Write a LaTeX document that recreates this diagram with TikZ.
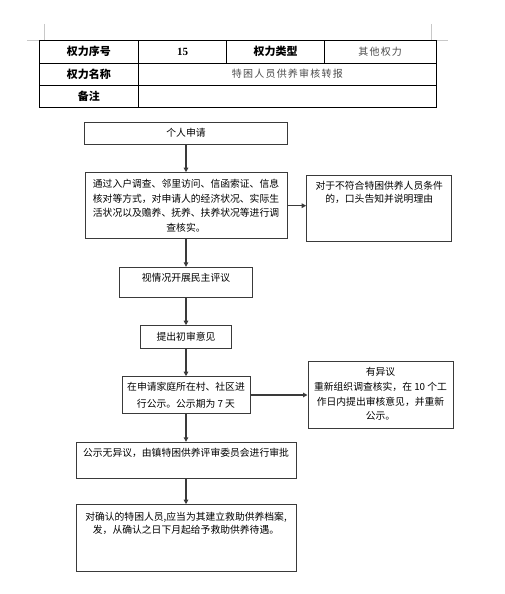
\documentclass[tikz,border=0pt]{standalone}
\usepackage{fontspec}
\usetikzlibrary{arrows.meta}
\setmainfont{Noto Sans CJK SC}
\newfontfamily\numfont{Liberation Serif}
\newfontfamily\spacedfont[LetterSpace=12]{Noto Sans CJK SC}
\definecolor{linegray}{HTML}{3A3A3A}
\definecolor{markgray}{HTML}{C8C8C8}
\definecolor{valgray}{HTML}{4A4A4A}
\tikzset{
  cell/.style={draw=black, line width=0.9pt, inner sep=0pt, font=\fontsize{11}{13}\selectfont\bfseries},
  valcell/.style={draw=black, line width=0.9pt, inner sep=0pt, text=valgray, font=\fontsize{10}{12}\selectfont\spacedfont},
  flowbox/.style={draw=linegray, line width=1pt, inner sep=0pt},
  flowtext/.style={inner sep=0pt, align=center, font=\fontsize{9.8}{14.7}\selectfont},
  arr/.style={draw=linegray, line width=1.2pt, -{Triangle[length=4.5pt,width=4.5pt]}},
  cornermark/.style={draw=markgray, line width=0.8pt}
}
\begin{document}
\begin{tikzpicture}[x=1pt,y=-1pt]
\useasboundingbox (0,0) rectangle (504,594);
% page corner marks
\draw[cornermark] (44.3,24) -- (44.3,40) -- (27,40);
\draw[cornermark] (431.3,24) -- (431.3,40) -- (448,40);
% table
\node[cell, minimum width=99.7pt, minimum height=23pt] (t11) at (88.85,51.5) {权力序号};
\node[cell, minimum width=88pt, minimum height=23pt, font=\fontsize{11}{13}\selectfont\numfont\bfseries] (t12) at (182.7,51.5) {15};
\node[cell, minimum width=97.6pt, minimum height=23pt] (t13) at (275.5,51.5) {权力类型};
\node[valcell, minimum width=111.7pt, minimum height=23pt] (t14) at (380.15,51.5) {其他权力};
\node[cell, minimum width=99.7pt, minimum height=22pt] (t21) at (88.85,74) {权力名称};
\node[valcell, minimum width=297.3pt, minimum height=22pt] (t22) at (287.35,74) {特困人员供养审核转报};
\node[cell, minimum width=99.7pt, minimum height=22pt] (t31) at (88.85,96) {备注};
\node[cell, minimum width=297.3pt, minimum height=22pt] (t32) at (287.35,96) {};
% flow boxes
\node[flowbox, minimum width=202.3pt, minimum height=22.3pt] (b1) at (186,133.2) {};
\node[flowtext] (b1t) at (186,133.2) {个人申请};
\node[flowbox, minimum width=202pt, minimum height=66pt] (b2) at (186,205.7) {};
\node[flowtext, anchor=north] (b2t) at (186,179) {通过入户调查、邻里访问、信函索证、信息\\核对等方式，对申请人的经济状况、实际生\\活状况以及赡养、抚养、扶养状况等进行调\\查核实。};
\node[flowbox, minimum width=145pt, minimum height=66pt] (b3) at (379.2,208) {};
\node[flowtext, anchor=north, font=\fontsize{9.8}{13.3}\selectfont] (b3t) at (379.2,180.7) {对于不符合特困供养人员条件\\的，口头告知并说明理由};
\node[flowbox, minimum width=132.3pt, minimum height=29.7pt] (b4) at (186,282.2) {};
\node[flowtext] (b4t) at (186,278.3) {视情况开展民主评议};
\node[flowbox, minimum width=90.6pt, minimum height=22.6pt] (b5) at (186,337) {};
\node[flowtext] (b5t) at (186,337) {提出初审意见};
\node[flowbox, minimum width=128pt, minimum height=36.6pt] (b6) at (186,395) {};
\node[flowtext, anchor=north, font=\fontsize{9.8}{16.7}\selectfont] (b6t) at (186,382) {在申请家庭所在村、社区进\\行公示。公示期为 7 天};
\node[flowbox, minimum width=145pt, minimum height=67pt] (b7) at (380.5,395.2) {};
\node[flowtext, anchor=north, font=\fontsize{9.8}{14.8}\selectfont] (b7t) at (380.5,367) {有异议\\重新组织调查核实，在 10 个工\\作日内提出审核意见，并重新\\公示。};
\node[flowbox, minimum width=220pt, minimum height=36pt] (b8) at (186,460.3) {};
\node[flowtext] (b8t) at (186,453.3) {公示无异议，由镇特困供养评审委员会进行审批};
\node[flowbox, minimum width=220pt, minimum height=67pt] (b9) at (186,538.2) {};
\node[flowtext, anchor=north, font=\fontsize{9.8}{12.7}\selectfont] (b9t) at (186,512) {对确认的特困人员,应当为其建立救助供养档案,\\发，从确认之日下月起给予救助供养待遇。};
% connectors
\draw[arr] (b1.south) -- (b2.north);
\draw[arr] (b2.south) -- (b4.north);
\draw[arr] (b4.south) -- (b5.north);
\draw[arr] (b5.south) -- (b6.north);
\draw[arr] (b6.south) -- (b8.north);
\draw[arr] (b8.south) -- (b9.north);
\draw[arr] (b2.east) -- (b2.east -| b3.west);
\draw[arr] (b6.east) -- (b6.east -| b7.west);
\end{tikzpicture}
\end{document}
